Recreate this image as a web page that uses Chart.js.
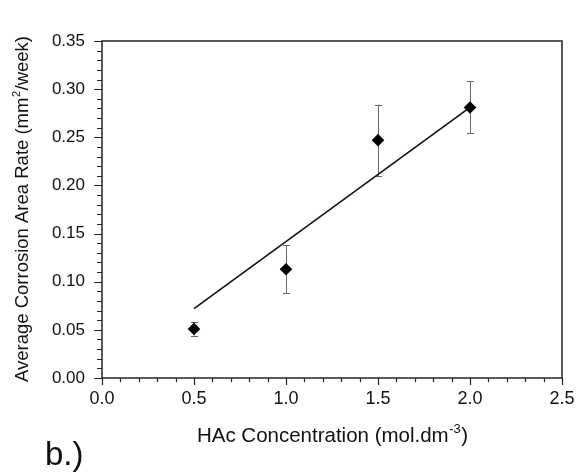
<!DOCTYPE html>
<html>
<head>
<meta charset="utf-8">
<script src="https://cdn.jsdelivr.net/npm/chart.js@4.4.0/dist/chart.umd.min.js"></script>
<style>
  html, body { margin: 0; padding: 0; background: #fff; }
  #wrap { position: relative; width: 578px; height: 474px; }
</style>
</head>
<body>
<div id="wrap"><canvas id="c" width="578" height="474"></canvas></div>
<script>
// ---- data ----
const concentrations = [0.5, 1.0, 1.5, 2.0];
const rates = [0.051, 0.113, 0.247, 0.281];
const rateErrors = [0.007, 0.025, 0.037, 0.027];
const fitX = [0.5, 2.0];
const fitY = [0.072, 0.281];
const xTicks = [0.0, 0.5, 1.0, 1.5, 2.0, 2.5];
const yTicks = [0.00, 0.05, 0.10, 0.15, 0.20, 0.25, 0.30, 0.35];
const xTitle = ['HAc Concentration (mol.dm', '-3', ')'];
const yTitle = ['Average Corrosion Area Rate (mm', '2', '/week)'];
const panelLabel = 'b.)';

const FONT = '"Liberation Sans", Arial, sans-serif';

function drawSupText(ctx, parts, x, y, size, align) {
  const supSize = Math.round(size * 0.62);
  ctx.font = size + 'px ' + FONT;
  const w0 = ctx.measureText(parts[0]).width;
  const w2 = ctx.measureText(parts[2]).width;
  ctx.font = supSize + 'px ' + FONT;
  const w1 = ctx.measureText(parts[1]).width;
  const total = w0 + w1 + w2;
  let sx = align === 'center' ? x - total / 2 : x;
  ctx.textAlign = 'left';
  ctx.textBaseline = 'alphabetic';
  ctx.font = size + 'px ' + FONT;
  ctx.fillText(parts[0], sx, y);
  ctx.font = supSize + 'px ' + FONT;
  ctx.fillText(parts[1], sx + w0 + 0.5, y - size * 0.45);
  ctx.font = size + 'px ' + FONT;
  ctx.fillText(parts[2], sx + w0 + w1 + 1, y);
}

const decorPlugin = {
  id: 'decor',
  beforeDatasetsDraw(chart) {
    const ctx = chart.ctx;
    const xs = chart.scales.x, ys = chart.scales.y;
    ctx.save();
    ctx.strokeStyle = '#666';
    ctx.lineWidth = 1;
    concentrations.forEach((c, i) => {
      const px = Math.round(xs.getPixelForValue(c)) + 0.5;
      const top = ys.getPixelForValue(rates[i] + rateErrors[i]);
      const bot = ys.getPixelForValue(rates[i] - rateErrors[i]);
      ctx.beginPath();
      ctx.moveTo(px, top); ctx.lineTo(px, bot);
      ctx.moveTo(px - 3.5, Math.round(top) + 0.5); ctx.lineTo(px + 3.5, Math.round(top) + 0.5);
      ctx.moveTo(px - 3.5, Math.round(bot) + 0.5); ctx.lineTo(px + 3.5, Math.round(bot) + 0.5);
      ctx.stroke();
    });
    ctx.restore();
  },
  afterDraw(chart) {
    const ctx = chart.ctx;
    const a = chart.chartArea;
    const xs = chart.scales.x, ys = chart.scales.y;
    ctx.save();
    ctx.strokeStyle = '#333';
    ctx.lineWidth = 1.6;
    ctx.strokeRect(a.left, a.top, a.right - a.left, a.bottom - a.top);
    ctx.strokeStyle = '#222';
    ctx.lineWidth = 1.2;
    ctx.beginPath();
    for (let i = 0; i <= 25; i++) {
      const v = i / 10;
      const px = Math.round(xs.getPixelForValue(v)) + 0.5;
      const len = (i % 5 === 0) ? 7 : 4;
      ctx.moveTo(px, a.bottom); ctx.lineTo(px, a.bottom + len);
    }
    for (let i = 0; i <= 35; i++) {
      const v = i / 100;
      const py = Math.round(ys.getPixelForValue(v)) + 0.5;
      const len = (i % 5 === 0) ? 8 : 5;
      ctx.moveTo(a.left, py); ctx.lineTo(a.left - len, py);
    }
    ctx.stroke();
    ctx.fillStyle = '#111';
    drawSupText(ctx, xTitle, (a.left + a.right) / 2, 442, 20.5, 'center');
    ctx.save();
    ctx.translate(28, (a.top + a.bottom) / 2);
    ctx.rotate(-Math.PI / 2);
    drawSupText(ctx, yTitle, 0, 0, 18.5, 'center');
    ctx.restore();
    ctx.font = '33px ' + FONT;
    ctx.textAlign = 'left';
    ctx.textBaseline = 'alphabetic';
    ctx.fillText(panelLabel, 45, 465);
    ctx.restore();
  }
};

new Chart(document.getElementById('c'), {
  type: 'scatter',
  data: {
    datasets: [
      {
        label: 'fit',
        data: fitX.map((x, i) => ({ x: x, y: fitY[i] })),
        showLine: true,
        borderColor: '#111',
        borderWidth: 1.6,
        pointRadius: 0,
        fill: false
      },
      {
        label: 'rate',
        data: concentrations.map((x, i) => ({ x: x, y: rates[i] })),
        pointStyle: 'rectRot',
        pointRadius: 6.3,
        backgroundColor: '#000',
        borderColor: '#000',
        borderWidth: 0
      }
    ]
  },
  options: {
    responsive: false,
    animation: false,
    events: [],
    layout: { padding: { left: 0, right: 16, top: 41, bottom: 0 } },
    plugins: { legend: { display: false }, tooltip: { enabled: false } },
    scales: {
      x: {
        type: 'linear',
        min: 0, max: 2.5,
        afterBuildTicks(s) { s.ticks = xTicks.map(v => ({ value: v })); },
        afterFit(s) { s.height = 96; s.paddingLeft = 0; s.paddingRight = 0; },
        grid: { display: false, drawTicks: false },
        border: { display: false },
        ticks: {
          padding: 10,
          color: '#111',
          font: { family: FONT, size: 18 },
          callback: v => Number(v).toFixed(1)
        }
      },
      y: {
        type: 'linear',
        min: 0, max: 0.35,
        afterBuildTicks(s) { s.ticks = yTicks.map(v => ({ value: v })); },
        afterFit(s) { s.width = 102; s.paddingTop = 0; s.paddingBottom = 0; },
        grid: { display: false, drawTicks: false },
        border: { display: false },
        ticks: {
          padding: 17,
          color: '#111',
          font: { family: FONT, size: 17 },
          callback: v => Number(v).toFixed(2)
        }
      }
    }
  },
  plugins: [decorPlugin]
});
</script>
</body>
</html>
